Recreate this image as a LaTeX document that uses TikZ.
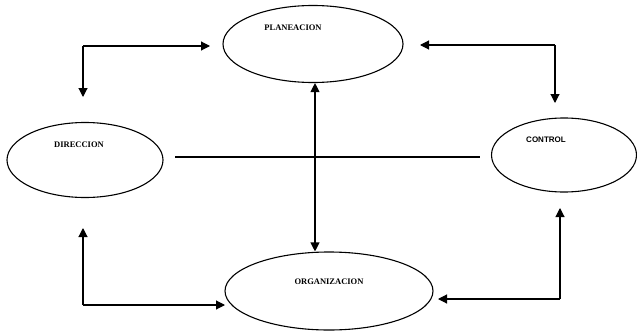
\documentclass[tikz,border=0pt]{standalone}
\usepackage{fontspec}
\setmainfont{Liberation Serif}
\setsansfont{Liberation Sans}
\usetikzlibrary{shapes.geometric,arrows.meta}
\tikzset{
  ell/.style={draw, ellipse, line width=1.1pt, inner sep=0pt},
  lbl/.style={font=\fontsize{8.5}{9}\selectfont\bfseries, inner sep=0pt},
  conn/.style={line width=1.1pt},
  arr/.style={conn, -{Triangle[length=9pt,width=9pt]}},
  darr/.style={conn, {Triangle[length=9pt,width=9pt]}-{Triangle[length=9pt,width=9pt]}}
}
\begin{document}
\begin{tikzpicture}[x=1pt,y=-1pt]
\useasboundingbox (0,0) rectangle (637,332);
% the four functions
\node[ell, minimum width=180pt, minimum height=77pt] (plan) at (313,44) {};
\node[ell, minimum width=156pt, minimum height=75pt] (dir)  at (85,160) {};
\node[ell, minimum width=145pt, minimum height=74pt] (ctrl) at (564,155) {};
\node[ell, minimum width=208pt, minimum height=78pt] (org)  at (329,291) {};
\node[lbl] (tplan) at (293,28)  {PLANEACION};
\node[lbl] (tdir)  at (79,145)  {DIRECCION};
\node[lbl, font=\fontsize{8}{9}\selectfont\sffamily\bfseries] (tctrl) at (546,140) {CONTROL};
\node[lbl] (torg)  at (329,282) {ORGANIZACION};
% corner and end points of the elbow connectors
\coordinate (ctl) at (83,46);
\coordinate (ctr) at (555,45);
\coordinate (cbl) at (83,305);
\coordinate (cbr) at (560,299);
\coordinate (tdl) at (83,97);
\coordinate (tdr) at (555,103);
\coordinate (tul) at (83,228);
\coordinate (tur) at (560,208);
\coordinate (trl) at (210,46);
\coordinate (tlr) at (420,45);
\coordinate (trb) at (225,305);
\coordinate (tlb) at (438,299);
\coordinate (hl) at (175,157);
\coordinate (hr) at (480,157);
% planeacion links
\draw[arr] (ctl) -- (tdl);
\draw[arr] (ctl) -- (trl);
\draw[arr] (ctr) -- (tdr);
\draw[arr] (ctr) -- (tlr);
% organizacion links
\draw[arr] (cbl) -- (tul);
\draw[arr] (cbl) -- (trb);
\draw[arr] (cbr) -- (tur);
\draw[arr] (cbr) -- (tlb);
% central cross
\draw[darr] (plan.south -| 315,0) -- (org.north -| 315,0);
\draw[conn] (hl) -- (hr);
\end{tikzpicture}
\end{document}
